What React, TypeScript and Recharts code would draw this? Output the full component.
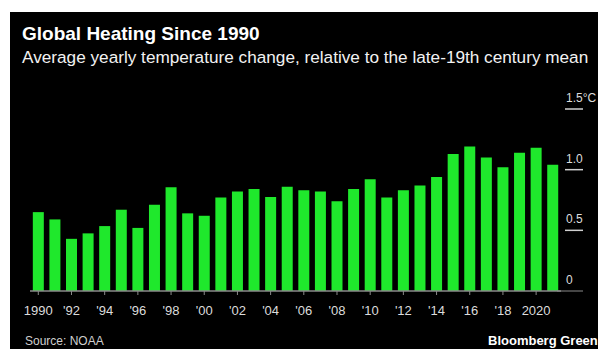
import React from "react";
import { BarChart, Bar, XAxis, YAxis, ReferenceLine } from "recharts";

// Yearly global temperature anomaly, °C vs late-19th century mean
const years = [
  "1990", "1991", "1992", "1993", "1994", "1995", "1996", "1997",
  "1998", "1999", "2000", "2001", "2002", "2003", "2004", "2005",
  "2006", "2007", "2008", "2009", "2010", "2011", "2012", "2013",
  "2014", "2015", "2016", "2017", "2018", "2019", "2020", "2021",
];
const anomalies = [
  0.65, 0.59, 0.43, 0.475, 0.535, 0.67, 0.52, 0.71,
  0.855, 0.64, 0.62, 0.77, 0.82, 0.84, 0.775, 0.86,
  0.83, 0.82, 0.74, 0.84, 0.92, 0.77, 0.83, 0.87,
  0.94, 1.13, 1.19, 1.1, 1.02, 1.14, 1.18, 1.04,
];
const xTickLabels = [
  "1990", "'92", "'94", "'96", "'98", "'00", "'02", "'04",
  "'06", "'08", "'10", "'12", "'14", "'16", "'18", "2020",
];
const yTicks = [0, 0.5, 1, 1.5];
const yTickLabels = ["0", "0.5", "1.0", "1.5°C"];

const data = years.map((year, i) => ({ year, value: anomalies[i] }));

const FONT = '"Liberation Sans", Arial, Helvetica, sans-serif';
const GREEN = "#1fe82c";
const AXIS = "#8a8a8a";

const YTick = (props: any) => {
  const { x, y, payload } = props;
  const idx = yTicks.indexOf(payload.value);
  const isZero = payload.value === 0;
  return (
    <g>
      <line
        x1={isZero ? x - 4 : x + 4}
        x2={x + 22}
        y1={y}
        y2={y}
        stroke={isZero ? AXIS : "#d0d0d0"}
        strokeWidth={isZero ? 1 : 1.5}
      />
      <text x={x + 5} y={y - 7} fill="#dcdcdc" fontSize={12} fontFamily={FONT}>
        {yTickLabels[idx]}
      </text>
    </g>
  );
};

export default function App() {
  return (
    <div
      style={{
        position: "relative",
        margin: "12px 0 0 10px",
        width: 588,
        height: 337,
        background: "#000",
        overflow: "hidden",
        fontFamily: FONT,
      }}
    >
      <style>{"body{margin:0}"}</style>
      <div
        style={{
          position: "absolute",
          left: 12,
          top: 12,
          fontSize: 19,
          lineHeight: "19px",
          fontWeight: 700,
          color: "#fff",
          whiteSpace: "nowrap",
        }}
      >
        Global Heating Since 1990
      </div>
      <div
        style={{
          position: "absolute",
          left: 12,
          top: 37,
          fontSize: 17.2,
          lineHeight: "17px",
          color: "#f2f2f2",
          whiteSpace: "nowrap",
        }}
      >
        Average yearly temperature change, relative to the late-19th century mean
      </div>

      <div style={{ position: "absolute", left: 0, top: 0 }}>
        <BarChart
          width={588}
          height={337}
          data={data}
          margin={{ top: 97, right: 0, bottom: 28, left: 20 }}
          barCategoryGap="17%"
        >
          <XAxis
            dataKey="year"
            interval={1}
            tickFormatter={(v: string) => xTickLabels[(Number(v) - 1990) / 2]}
            axisLine={{ stroke: AXIS }}
            tickLine={{ stroke: AXIS }}
            tickSize={4}
            tickMargin={11}
            tick={{ fill: "#dcdcdc", fontSize: 13, fontFamily: FONT }}
          />
          <YAxis
            orientation="right"
            domain={[0, 1.5]}
            ticks={yTicks}
            width={37}
            axisLine={false}
            tickLine={false}
            tickSize={0}
            tickMargin={0}
            tick={<YTick />}
          />
          <ReferenceLine y={0} stroke={AXIS} />
          <Bar dataKey="value" fill={GREEN} isAnimationActive={false} />
        </BarChart>
      </div>

      <div
        style={{
          position: "absolute",
          left: 15,
          top: 323,
          fontSize: 12,
          lineHeight: "12px",
          color: "#cfcfcf",
          whiteSpace: "nowrap",
        }}
      >
        Source: NOAA
      </div>
      <div
        style={{
          position: "absolute",
          left: 478,
          top: 322,
          fontSize: 13,
          lineHeight: "13px",
          fontWeight: 700,
          color: "#fff",
          whiteSpace: "nowrap",
        }}
      >
        Bloomberg Green
      </div>
    </div>
  );
}
